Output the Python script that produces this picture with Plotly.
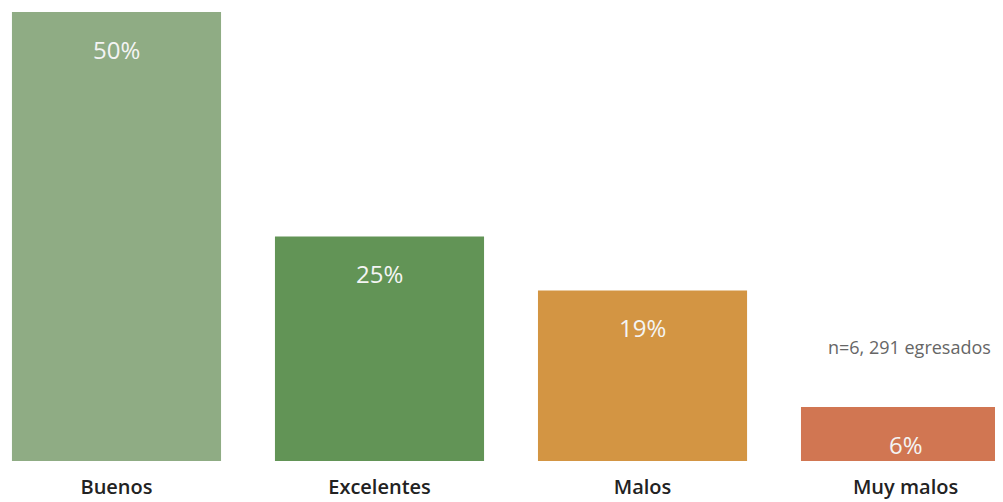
import plotly.graph_objects as go

# datos
categorias = ["Buenos", "Excelentes", "Malos", "Muy malos"]
porcentajes = [50, 25, 19, 6]
colores = ["#8fac84", "#629456", "#d39543", "#d17652"]
nota = "n=6, 291 egresados"

fig = go.Figure()
fig.add_trace(go.Bar(
    x=categorias,
    y=porcentajes,
    marker=dict(color=colores, line=dict(width=0)),
    width=0.795,
    hoverinfo="skip",
))

# etiquetas de porcentaje dentro de cada barra
for c, v in zip(categorias, porcentajes):
    fig.add_annotation(
        x=c, y=v, text=f"{v}%", showarrow=False,
        yanchor="middle", yshift=-37,
        font=dict(family="Open Sans", size=24, color="#f4f4f4"),
    )

fig.add_annotation(
    x=categorias[-1], y=porcentajes[-1], text=nota, showarrow=False,
    yanchor="middle", yshift=60, xshift=4,
    font=dict(family="Open Sans", size=18, color="#666666"),
)

# la pagina tiene 8px de margen en body, se compensa aqui
fig.update_layout(
    width=1003, height=502,
    margin=dict(l=0, r=0, t=4, b=49),
    plot_bgcolor="white", paper_bgcolor="white",
    showlegend=False,
    xaxis=dict(
        range=[-0.4125, 3.401], showgrid=False, zeroline=False, showline=False,
        tickfont=dict(family="Open Sans", size=20, color="#222222", weight=600),
        ticklabelstandoff=12,
    ),
    yaxis=dict(range=[0, 50], visible=False),
)

fig.write_html("out.html")
